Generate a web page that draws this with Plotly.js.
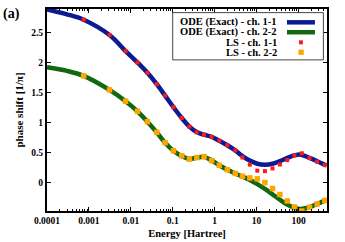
<!DOCTYPE html>
<html><head><meta charset="utf-8">
<script src="https://cdn.plot.ly/plotly-3.0.1.min.js"></script>
<style>html,body{margin:0;padding:0;background:#fff}#chart{width:345px;height:242px}</style>
</head><body><div id="chart"></div>
<script>
// ODE (exact) curves
const odeEnergy = [1e-4, 3e-4, 7.5e-4, 3.1e-3, 7.5e-3, 0.0144, 0.0249, 0.0416, 0.0657, 0.104, 0.164, 0.249, 0.373, 0.557, 0.849, 1.29, 2.0, 3.1, 4.6, 6.9, 10.4, 15.8, 24, 36, 54, 80, 110, 183, 278, 464];
const odeCh11 = [2.88, 2.80, 2.71, 2.456, 2.19, 2.0, 1.828, 1.639, 1.45, 1.256, 1.078, 0.935, 0.845, 0.80, 0.765, 0.70, 0.625, 0.54, 0.445, 0.37, 0.318, 0.302, 0.318, 0.36, 0.415, 0.458, 0.472, 0.415, 0.36, 0.288];
const odeCh22 = [1.92, 1.86, 1.778, 1.544, 1.356, 1.189, 1.017, 0.839, 0.667, 0.533, 0.445, 0.398, 0.418, 0.432, 0.372, 0.292, 0.218, 0.156, 0.105, 0.05, -0.02, -0.1, -0.19, -0.28, -0.36, -0.415, -0.435, -0.405, -0.35, -0.28];
// LS points
const lsEnergy = [7.5e-4, 3.1e-3, 7.5e-3, 0.0144, 0.0249, 0.0416, 0.0657, 0.104, 0.164, 0.249, 0.373, 0.557, 0.849, 1.29, 2.0, 3.1, 4.6, 6.9, 10.4, 15.8, 24, 36, 54, 80, 120, 183, 278, 424];
const lsCh11 = [2.711, 2.456, 2.189, 2.0, 1.828, 1.639, 1.45, 1.256, 1.078, 0.935, 0.84, 0.80, 0.765, 0.70, 0.625, 0.54, 0.422, 0.303, 0.203, 0.195, 0.24, 0.305, 0.378, 0.456, 0.492, 0.412, 0.352, 0.295];
const lsCh22 = [1.778, 1.544, 1.356, 1.189, 1.017, 0.839, 0.667, 0.533, 0.45, 0.395, 0.42, 0.435, 0.37, 0.293, 0.218, 0.156, 0.11, 0.083, 0.067, 0.005, -0.094, -0.194, -0.3, -0.4, -0.467, -0.405, -0.35, -0.294];
const xTickVals = [1e-4, 1e-3, 1e-2, 1e-1, 1, 10, 100];
const xTickText = ["0.0001", "0.001", "0.01", "0.1", "1", "10", "100"];
const yTickVals = [0, 0.5, 1, 1.5, 2, 2.5];
const yTickText = ["0", "0.5", "1", "1.5", "2", "2.5"];
const seriesNames = ["ODE (Exact) - ch. 1-1", "ODE (Exact) - ch. 2-2", "LS - ch. 1-1", "LS - ch. 2-2"];

const C_BLUE = "#0d1b93", C_GREEN = "#11680f", C_RED = "#ff1a1a", C_ORANGE = "#ffa500";
const FONT = "Liberation Serif";

const traces = [
  {x: odeEnergy, y: odeCh11, mode: "lines", line: {color: C_BLUE, width: 4.5, shape: "spline"}, name: seriesNames[0]},
  {x: odeEnergy, y: odeCh22, mode: "lines", line: {color: C_GREEN, width: 4.5, shape: "spline"}, name: seriesNames[1]},
  {x: lsEnergy, y: lsCh11, mode: "markers", marker: {color: C_RED, size: 4, symbol: "square"}, name: seriesNames[2]},
  {x: lsEnergy, y: lsCh22, mode: "markers", marker: {color: C_ORANGE, size: 5.5, symbol: "square"}, name: seriesNames[3]}
];

// custom legend (text right-aligned, sample on the right, like the original)
const rowY = [0.934, 0.885, 0.835, 0.786];
const annotations = seriesNames.map((n, i) => ({
  text: "<b>" + n + "</b>", xref: "paper", yref: "paper", x: 0.827, y: rowY[i],
  xanchor: "right", yanchor: "middle", showarrow: false,
  font: {family: FONT, size: 10.5, color: "#000"}
}));
annotations.push({text: "<b>(a)</b>", xref: "paper", yref: "paper", x: -0.165, y: 1.025,
  xanchor: "left", yanchor: "top", showarrow: false, font: {family: FONT, size: 14, color: "#000"}});

const shapes = [
  {type: "rect", xref: "paper", yref: "paper", x0: 0.449, x1: 0.987, y0: 0.748, y1: 0.982,
   line: {color: "#444", width: 1}, fillcolor: "rgba(255,255,255,1)"},
  {type: "line", xref: "paper", yref: "paper", x0: 0.857, x1: 0.957, y0: rowY[0], y1: rowY[0], line: {color: C_BLUE, width: 4.5}},
  {type: "line", xref: "paper", yref: "paper", x0: 0.857, x1: 0.957, y0: rowY[1], y1: rowY[1], line: {color: C_GREEN, width: 4.5}},
  {type: "rect", xref: "paper", yref: "paper", x0: 0.900, x1: 0.914, y0: rowY[2] - 0.01, y1: rowY[2] + 0.01, line: {width: 0}, fillcolor: C_RED},
  {type: "rect", xref: "paper", yref: "paper", x0: 0.898, x1: 0.917, y0: rowY[3] - 0.013, y1: rowY[3] + 0.013, line: {width: 0}, fillcolor: C_ORANGE}
];

const layout = {
  width: 345, height: 242,
  margin: {l: 47, r: 18, t: 9, b: 31},
  paper_bgcolor: "#fff", plot_bgcolor: "#fff",
  showlegend: false,
  font: {family: FONT, size: 9, color: "#000"},
  xaxis: {
    type: "log", range: [-4, 2.68],
    tickvals: xTickVals, ticktext: xTickText.map(t => "<b>" + t + "</b>"),
    ticks: "inside", ticklen: 4, tickwidth: 1, tickcolor: "#000",
    minor: {ticks: "inside", ticklen: 2, tickcolor: "#000", dtick: "D1", showgrid: false},
    showline: true, linecolor: "#000", linewidth: 2, mirror: "ticks",
    showgrid: false, zeroline: false,
    tickfont: {family: FONT, size: 9.5},
    title: {text: "<b>Energy [Hartree]</b>", font: {family: FONT, size: 10.5}, standoff: 4}
  },
  yaxis: {
    range: [-0.467, 2.888],
    tickvals: yTickVals, ticktext: yTickText.map(t => "<b>" + t + "</b>"),
    ticks: "inside", ticklen: 4, tickwidth: 1, tickcolor: "#000",
    showline: true, linecolor: "#000", linewidth: 2, mirror: "ticks",
    showgrid: false, zeroline: false,
    tickfont: {family: FONT, size: 9.5},
    title: {text: "<b>phase shift [1/π]</b>", font: {family: FONT, size: 11}, standoff: 5}
  },
  annotations: annotations,
  shapes: shapes
};

Plotly.newPlot("chart", traces, layout, {staticPlot: true, displayModeBar: false});
</script></body></html>
